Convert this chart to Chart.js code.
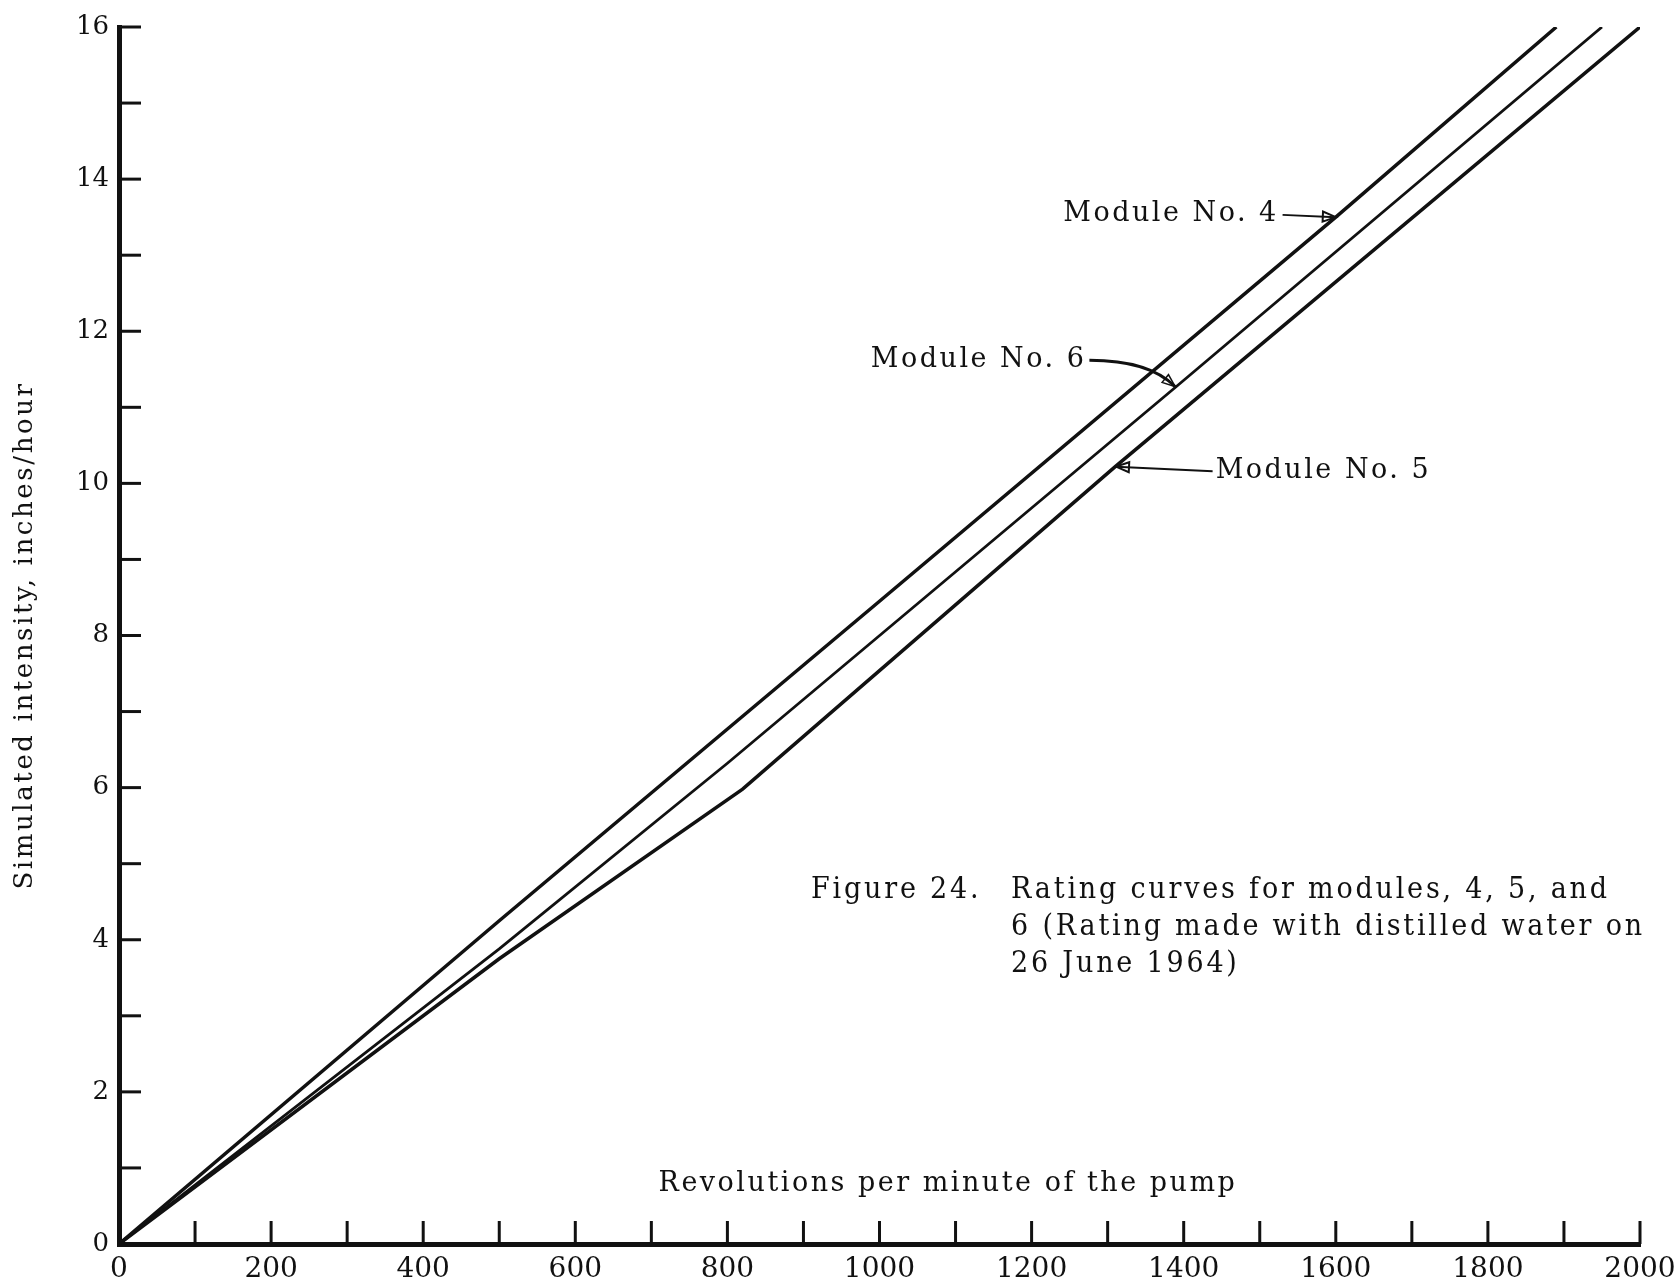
<!DOCTYPE html>
<html>
<head>
<meta charset="utf-8">
<script src="https://cdn.jsdelivr.net/npm/chart.js@4.4.1/dist/chart.umd.min.js"></script>
<style>
  html, body { margin: 0; padding: 0; background: #fff; }
  #wrap { width: 1676px; height: 1288px; }
</style>
</head>
<body>
<div id="wrap"><canvas id="rating"></canvas></div>
<script>
'use strict'
// pump rpm vs simulated intensity (inches/hour)
const rpm4 = [0, 500, 1000, 1600, 1890];
const mod4 = [0, 4.25, 8.45, 13.5, 16];
const rpm5 = [0, 500, 820, 1310, 2000];
const mod5 = [0, 3.75, 5.98, 10.22, 16];
const rpm6 = [0, 500, 800, 1390, 1950];
const mod6 = [0, 3.88, 6.32, 11.27, 16];

const xLabels = [0, 200, 400, 600, 800, 1000, 1200, 1400, 1600, 1800, 2000];
const yLabels = [0, 2, 4, 6, 8, 10, 12, 14, 16];

const ink = '#111';
const serif = "'DejaVu Serif', serif";
const serifNarrow = "'DejaVu Serif Condensed', 'DejaVu Serif', serif";

const toPoints = (xs, ys) => xs.map((v, i) => ({x: v, y: ys[i]}));

// hollow arrow head at (x2,y2) coming from (x1,y1)
function arrowHead(ctx, x1, y1, x2, y2) {
    const a = Math.atan2(y2 - y1, x2 - x1);
    const len = 13, half = 5;
    const bx = x2 - len * Math.cos(a), by = y2 - len * Math.sin(a);
    ctx.beginPath();
    ctx.moveTo(x2, y2);
    ctx.lineTo(bx + half * Math.sin(a), by - half * Math.cos(a));
    ctx.lineTo(bx - half * Math.sin(a), by + half * Math.cos(a));
    ctx.closePath();
    ctx.stroke();
}

//---------------- ticks drawn inward from the axes ----------------//
const inTicks = {
    id: 'inTicks',
    afterDraw(chart) {
        const {ctx, chartArea, scales: {x, y}} = chart;
        ctx.save();
        ctx.strokeStyle = ink;
        ctx.lineWidth = 3;
        x.ticks.forEach(t => {
            if (t.value === 0) return;
            const px = x.getPixelForValue(t.value);
            ctx.beginPath();
            ctx.moveTo(px, chartArea.bottom);
            ctx.lineTo(px, chartArea.bottom - 23);
            ctx.stroke();
        });
        y.ticks.forEach(t => {
            if (t.value === 0) return;
            const py = y.getPixelForValue(t.value);
            ctx.beginPath();
            ctx.moveTo(chartArea.left, py);
            ctx.lineTo(chartArea.left + 22, py);
            ctx.stroke();
        });
        ctx.restore();
    }
};

//---------------- labels, arrows, caption ----------------//
const notes = {
    id: 'notes',
    beforeDraw(chart) {
        // spaced-out lettering for the axis title (drawn before datasets)
        chart.ctx.letterSpacing = '2.6px';
    },
    beforeDatasetsDraw(chart) {
        // tick labels are on a later layer (z: 1), keep them unspaced
        chart.ctx.letterSpacing = '0px';
    },
    afterDraw(chart) {
        const {ctx, scales: {x, y}} = chart;
        const X = v => x.getPixelForValue(v), Y = v => y.getPixelForValue(v);
        ctx.save();
        ctx.fillStyle = ink;
        ctx.strokeStyle = ink;
        ctx.textBaseline = 'middle';

        ctx.font = '27px ' + serif;
        ctx.letterSpacing = '2.5px';
        ctx.textAlign = 'right';
        ctx.fillText('Module No. 4', X(1525), Y(13.54));
        ctx.fillText('Module No. 6', X(1272), Y(11.62));
        ctx.textAlign = 'left';
        ctx.fillText('Module No. 5', X(1442), Y(10.16));

        ctx.lineWidth = 2;
        ctx.beginPath();
        ctx.moveTo(X(1530), Y(13.53));
        ctx.lineTo(X(1600), Y(13.5));
        ctx.stroke();
        arrowHead(ctx, X(1530), Y(13.53), X(1600), Y(13.5));

        ctx.beginPath();
        ctx.moveTo(X(1438), Y(10.16));
        ctx.lineTo(X(1311), Y(10.22));
        ctx.stroke();
        arrowHead(ctx, X(1438), Y(10.16), X(1311), Y(10.22));

        ctx.lineWidth = 3;
        ctx.beginPath();
        ctx.moveTo(X(1276), Y(11.62));
        ctx.quadraticCurveTo(X(1355), Y(11.62), X(1389), Y(11.27));
        ctx.stroke();
        ctx.lineWidth = 1.5;
        arrowHead(ctx, X(1355), Y(11.55), X(1389), Y(11.27));

        // x axis title sits inside the plot
        ctx.textAlign = 'center';
        ctx.letterSpacing = '2.5px';
        ctx.fillText('Revolutions per minute of the pump', X(1090), Y(0.79));

        // caption
        ctx.textAlign = 'left';
        ctx.font = '30px ' + serifNarrow;
        ctx.letterSpacing = '2.8px';
        const capY = Y(4.65), lh = 37;
        ctx.fillText('Figure 24.', X(910), capY);
        ctx.fillText('Rating curves for modules, 4, 5, and', X(1173), capY);
        ctx.fillText('6 (Rating made with distilled water on', X(1173), capY + lh);
        ctx.fillText('26 June 1964)', X(1173), capY + 2 * lh);
        ctx.restore();
    }
};

const lineStyle = {showLine: true, borderColor: ink, pointRadius: 0, tension: 0, fill: false};

const ratingChart = new Chart(document.getElementById('rating'), {
    type: 'scatter',
    data: {
        datasets: [
            Object.assign({label: 'Module No. 4', data: toPoints(rpm4, mod4), borderWidth: 3.5}, lineStyle),
            Object.assign({label: 'Module No. 5', data: toPoints(rpm5, mod5), borderWidth: 3.5}, lineStyle),
            Object.assign({label: 'Module No. 6', data: toPoints(rpm6, mod6), borderWidth: 2.8}, lineStyle)
        ]
    },
    options: {
        responsive: true,
        maintainAspectRatio: false,
        animation: false,
        layout: {padding: {top: 27, right: 36, left: 0, bottom: 0}},
        plugins: {legend: {display: false}, tooltip: {enabled: false}},
        scales: {
            x: {
                type: 'linear',
                min: 0,
                max: 2000,
                afterFit: s => { s.height = 44; s.paddingRight = 36; },
                grid: {display: false, drawTicks: false},
                border: {display: true, color: ink, width: 5},
                ticks: {
                    z: 1,
                    stepSize: 100,
                    autoSkip: false,
                    maxRotation: 0,
                    padding: 9,
                    color: ink,
                    font: {family: serif, size: 28},
                    callback: v => xLabels.includes(v) ? v : ''
                }
            },
            y: {
                min: 0,
                max: 16,
                afterFit: s => { s.width = 119; },
                grid: {display: false, drawTicks: false},
                border: {display: true, color: ink, width: 5},
                ticks: {
                    z: 1,
                    stepSize: 1,
                    autoSkip: false,
                    padding: 10,
                    color: ink,
                    font: {family: serif, size: 26},
                    callback: v => yLabels.includes(v) ? v : ''
                },
                title: {
                    display: true,
                    text: 'Simulated intensity, inches/hour',
                    color: ink,
                    font: {family: serif, size: 26},
                    padding: {top: 10, bottom: 4}
                }
            }
        }
    },
    plugins: [inTicks, notes]
});
</script>
</body>
</html>
